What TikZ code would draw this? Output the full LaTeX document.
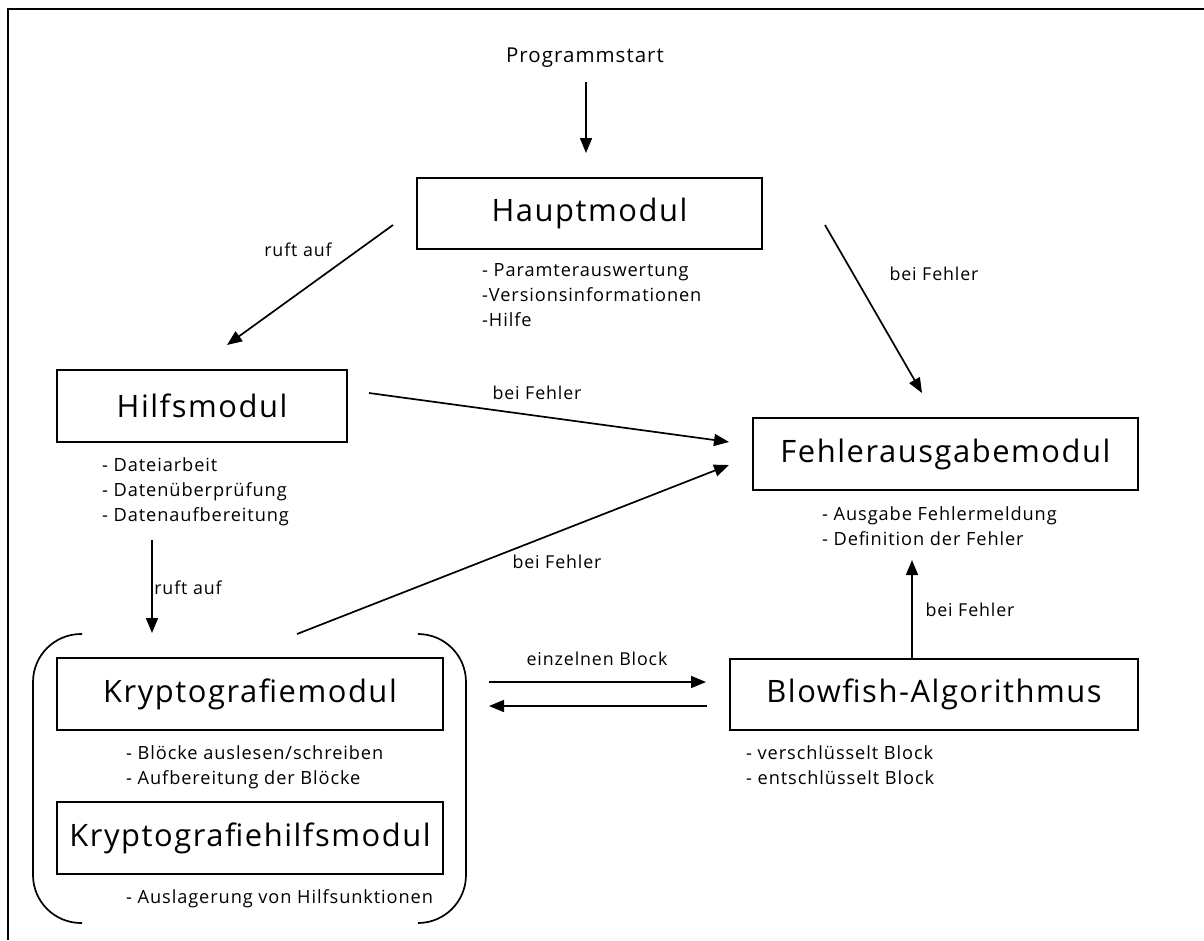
\documentclass[tikz,border=0pt]{standalone}
\usepackage{fontspec}
\setmainfont{Open Sans}
\newfontfamily\sfont[LetterSpace=5]{Open Sans}
\usetikzlibrary{arrows.meta}
\tikzset{
  modbox/.style={draw, line width=1.8pt, inner sep=0pt, font=\sfont\fontsize{30.9}{36}\selectfont},
  desc/.style={anchor=base west, inner sep=0pt, align=left, font=\sfont\fontsize{18.2}{25}\selectfont},
  lbl/.style={inner sep=0pt, font=\sfont\fontsize{17.8}{21}\selectfont},
  arr/.style={line width=1.7pt, -{Triangle[length=15pt,width=12pt]}},
  brk/.style={line width=1.7pt, rounded corners=48pt},
}
\begin{document}
\begin{tikzpicture}[x=1pt,y=-1pt]
\useasboundingbox (0,0) rectangle (1204,940);
% outer frame (cropped)
\draw[line width=2.8pt] (1204,9) -- (8,9) -- (8,940);

% module boxes
\node[modbox, minimum width=345pt, minimum height=71pt] (haupt) at (589.5,213.5) {Hauptmodul};
\node[modbox, minimum width=290pt, minimum height=72pt] (hilfs) at (202,406) {Hilfsmodul};
\node[modbox, minimum width=385pt, minimum height=72pt] (fehler) at (945.5,454) {Fehlerausgabemodul};
\node[modbox, minimum width=408pt, minimum height=71pt] (blow) at (934,694.5) {Blowfish-Algorithmus};
\node[modbox, minimum width=386pt, minimum height=72pt] (krypto) at (250,694) {Kryptografiemodul};
\node[modbox, minimum width=386pt, minimum height=72pt] (kryptoh) at (250,838) {Kryptografiehilfsmodul};

% bracket around crypto group
\draw[brk] (82,634) -- (33,634) -- (33,923) -- (82,923);
\draw[brk] (418,634) -- (466,634) -- (466,923) -- (418,923);

% descriptions (anchored at the baseline of their last line)
\node[desc] (dhaupt) at (482,326) {- Paramterauswertung\\-Versionsinformationen\\-Hilfe};
\node[desc] (dhilfs) at (102,521) {- Dateiarbeit\\- Datenüberprüfung\\- Datenaufbereitung};
\node[desc] (dfehler) at (822,545) {- Ausgabe Fehlermeldung\\- Definition der Fehler};
\node[desc] (dblow) at (746,784) {- verschlüsselt Block\\- entschlüsselt Block};
\node[desc] (dkrypto) at (126,784) {- Blöcke auslesen/schreiben\\- Aufbereitung der Blöcke};
\node[desc] (dkryptoh) at (126,903) {- Auslagerung von Hilfsunktionen};

% start
\node[inner sep=0pt, font=\sfont\fontsize{20.5}{24}\selectfont] (start) at (585,58) {Programmstart};

% connector end points
\coordinate (s1) at (586,82);   \coordinate (e1) at (586,153);
\coordinate (s2) at (393,225);  \coordinate (e2) at (227,345);
\coordinate (s3) at (825,225);  \coordinate (e3) at (922,393);
\coordinate (s4) at (369,393);  \coordinate (e4) at (729,442);
\coordinate (s5) at (152,540);  \coordinate (e5) at (152,633);
\coordinate (s6) at (297,634);  \coordinate (e6) at (729,465);
\coordinate (s7) at (912,658);  \coordinate (e7) at (912,560);
\coordinate (s8) at (489,682);  \coordinate (e8) at (706,682);
\coordinate (s9) at (707,706);  \coordinate (e9) at (489,706);

\draw[arr] (s1) -- (e1);
\draw[arr] (s2) -- (e2);
\draw[arr] (s3) -- (e3);
\draw[arr] (s4) -- (e4);
\draw[arr] (s5) -- (e5);
\draw[arr] (s6) -- (e6);
\draw[arr] (s7) -- (e7);
\draw[arr] (s8) -- (e8);
\draw[arr] (s9) -- (e9);

% labels
\node[lbl] (l2) at (298,250) {ruft auf};
\node[lbl] (l3) at (934,274) {bei Fehler};
\node[lbl] (l4) at (537,393) {bei Fehler};
\node[lbl] (l5) at (188,588) {ruft auf};
\node[lbl] (l6) at (557,562) {bei Fehler};
\node[lbl] (l7) at (970,610) {bei Fehler};
\node[lbl] (l8) at (597,659) {einzelnen Block};
\end{tikzpicture}
\end{document}
